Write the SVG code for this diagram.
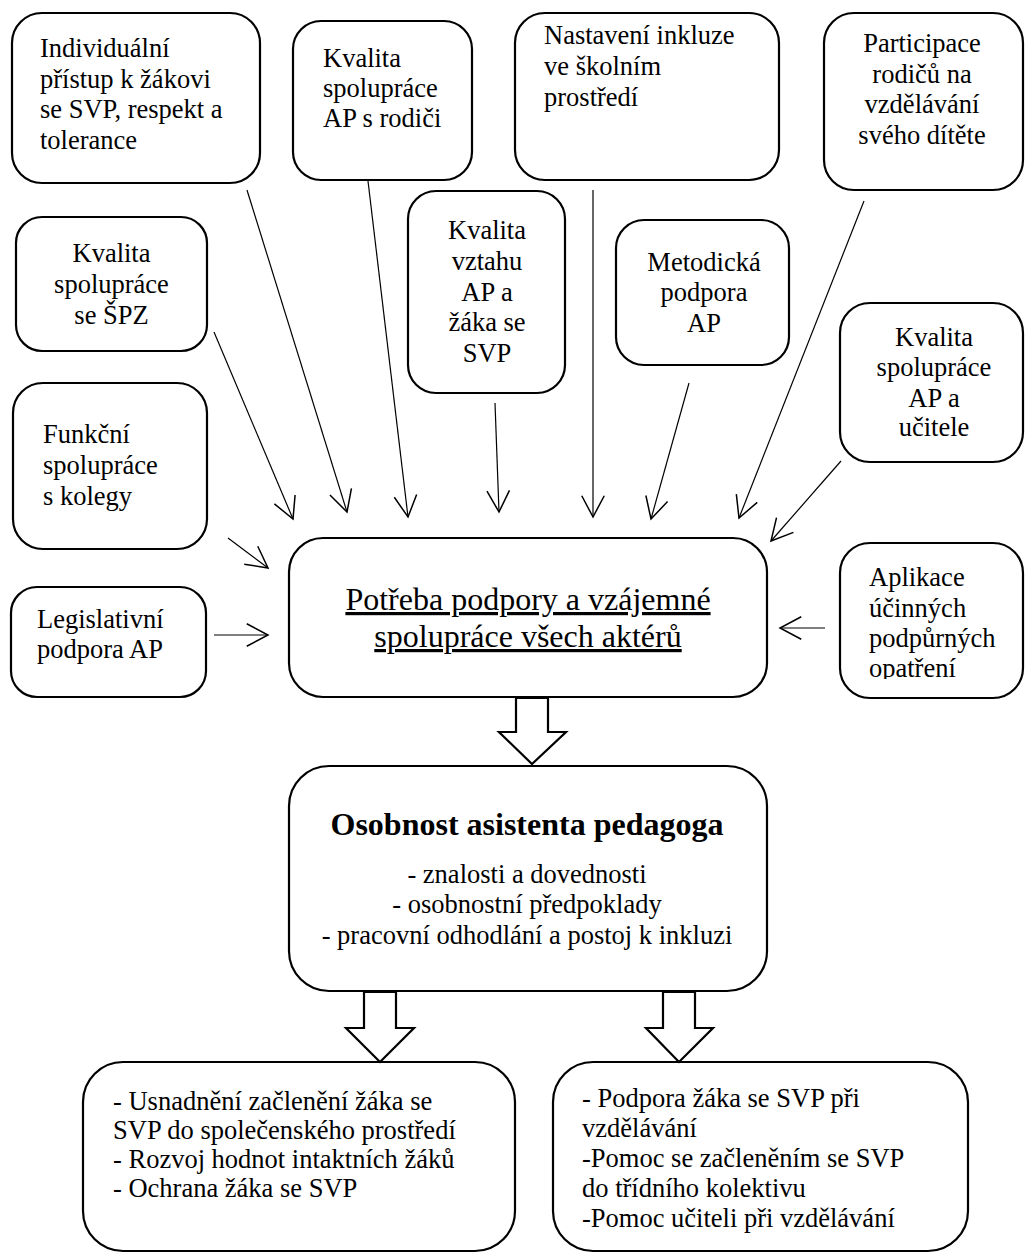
<svg xmlns="http://www.w3.org/2000/svg" width="1025" height="1254" viewBox="0 0 1025 1254" font-family="'Liberation Serif', 'DejaVu Serif', serif">
<style>
  .box { fill: #fff; stroke: #000; stroke-width: 2.2; }
  text { font-family: 'Liberation Serif', 'DejaVu Serif', serif; font-size: 26.5px; fill: #000; }
  .c { text-anchor: middle; }
  .main { font-size: 32px; text-decoration: underline; }
  .bold { font-weight: bold; font-size: 32px; }
  .con line { stroke: #000; stroke-width: 1.2; marker-end: url(#arr); }
  .block { fill: #fff; stroke: #000; stroke-width: 2.2; stroke-linejoin: miter; }
</style>
<defs>
  <marker id="arr" markerUnits="userSpaceOnUse" markerWidth="30" markerHeight="30" viewBox="-20 -12 22 24" refX="0" refY="0" orient="auto">
    <path d="M-17,-9 L0,0 L-17,9" fill="none" stroke="#000" stroke-width="1.2"/>
  </marker>
  <clipPath id="clipApl"><rect x="840" y="543" width="185" height="136"/></clipPath>
</defs>
<rect width="1025" height="1254" fill="#fff"/>

<g id="n-individualni">
  <rect class="box" x="12" y="13" width="248" height="170" rx="30"/>
  <text x="40" y="57">Individuální</text>
  <text x="40" y="87.5">přístup k žákovi</text>
  <text x="40" y="118">se SVP, respekt a</text>
  <text x="40" y="148.5">tolerance</text>
</g>
<g id="n-rodice">
  <rect class="box" x="293" y="21" width="179" height="159" rx="28"/>
  <text x="323" y="67">Kvalita</text>
  <text x="323" y="97">spolupráce</text>
  <text x="323" y="127">AP s rodiči</text>
</g>
<g id="n-nastaveni">
  <rect class="box" x="515" y="13" width="264" height="167" rx="30"/>
  <text x="544" y="44">Nastavení inkluze</text>
  <text x="544" y="75">ve školním</text>
  <text x="544" y="106">prostředí</text>
</g>
<g id="n-participace">
  <rect class="box" x="824" y="13" width="199" height="177" rx="30"/>
  <text class="c" x="922" y="52">Participace</text>
  <text class="c" x="922" y="82.5">rodičů na</text>
  <text class="c" x="922" y="113">vzdělávání</text>
  <text class="c" x="922" y="143.5">svého dítěte</text>
</g>
<g id="n-spz">
  <rect class="box" x="16" y="217" width="191" height="134" rx="26"/>
  <text class="c" x="111.5" y="262">Kvalita</text>
  <text class="c" x="111.5" y="292.5">spolupráce</text>
  <text class="c" x="111.5" y="323.5">se ŠPZ</text>
</g>
<g id="n-funkcni">
  <rect class="box" x="13" y="383" width="194" height="166" rx="30"/>
  <text x="43" y="443">Funkční</text>
  <text x="43" y="474">spolupráce</text>
  <text x="43" y="505">s kolegy</text>
</g>
<g id="n-vztah">
  <rect class="box" x="408" y="191" width="157" height="202" rx="28"/>
  <text class="c" x="487" y="239">Kvalita</text>
  <text class="c" x="487" y="270">vztahu</text>
  <text class="c" x="487" y="300.5">AP a</text>
  <text class="c" x="487" y="331">žáka se</text>
  <text class="c" x="487" y="361.5">SVP</text>
</g>
<g id="n-metodicka">
  <rect class="box" x="616" y="220" width="173" height="145" rx="28"/>
  <text class="c" x="704" y="270.5">Metodická</text>
  <text class="c" x="704" y="300.5">podpora</text>
  <text class="c" x="704" y="332">AP</text>
</g>
<g id="n-ucitel">
  <rect class="box" x="840" y="303" width="183" height="159" rx="30"/>
  <text class="c" x="934" y="345.5">Kvalita</text>
  <text class="c" x="934" y="375.5">spolupráce</text>
  <text class="c" x="934" y="406.5">AP a</text>
  <text class="c" x="934" y="436">učitele</text>
</g>
<g id="n-legislativni">
  <rect class="box" x="11" y="587" width="195" height="110" rx="26"/>
  <text x="37" y="628">Legislativní</text>
  <text x="37" y="658">podpora AP</text>
</g>
<g id="n-aplikace">
  <rect class="box" x="840" y="543" width="183" height="155" rx="30"/>
  <g clip-path="url(#clipApl)">
    <text x="869" y="586">Aplikace</text>
    <text x="869" y="616.5">účinných</text>
    <text x="869" y="647">podpůrných</text>
    <text x="869" y="677">opatření</text>
  </g>
</g>
<g id="n-potreba">
  <rect class="box" x="289" y="538" width="478" height="159" rx="34"/>
  <text class="c main" x="528" y="610">Potřeba podpory a vzájemné</text>
  <text class="c main" x="528" y="647">spolupráce všech aktérů</text>
</g>
<g id="n-osobnost">
  <rect class="box" x="289" y="766" width="478" height="225" rx="40"/>
  <text class="c bold" x="527" y="835">Osobnost asistenta pedagoga</text>
  <text class="c" x="527" y="883">- znalosti a dovednosti</text>
  <text class="c" x="527" y="913">- osobnostní předpoklady</text>
  <text class="c" x="527" y="943.5">- pracovní odhodlání a postoj k inkluzi</text>
</g>
<g id="n-zacleneni">
  <rect class="box" x="83" y="1062" width="432" height="189" rx="40"/>
  <text x="113" y="1110">- Usnadnění začlenění žáka se</text>
  <text x="113" y="1139">SVP do společenského prostředí</text>
  <text x="113" y="1168">- Rozvoj hodnot intaktních žáků</text>
  <text x="113" y="1197">- Ochrana žáka se SVP</text>
</g>
<g id="n-podpora">
  <rect class="box" x="553" y="1062" width="415" height="189" rx="40"/>
  <text x="582" y="1107">- Podpora žáka se SVP při</text>
  <text x="582" y="1137">vzdělávání</text>
  <text x="582" y="1167">-Pomoc se začleněním se SVP</text>
  <text x="582" y="1197">do třídního kolektivu</text>
  <text x="582" y="1227">-Pomoc učiteli při vzdělávání</text>
</g>

<g id="connectors" class="con">
  <line x1="214" y1="332" x2="293" y2="519"/>
  <line x1="247" y1="190" x2="347" y2="512"/>
  <line x1="368" y1="181" x2="408" y2="517"/>
  <line x1="495" y1="403" x2="499" y2="512"/>
  <line x1="593" y1="190" x2="593" y2="517"/>
  <line x1="689" y1="383" x2="651" y2="519"/>
  <line x1="864" y1="201" x2="739" y2="518"/>
  <line x1="841" y1="461" x2="771" y2="541"/>
  <line x1="228" y1="538" x2="268" y2="568"/>
  <line x1="214" y1="635" x2="268" y2="635"/>
  <line x1="825" y1="628" x2="780" y2="628"/>
  <polygon class="block" points="516,698 548,698 548,732 566,732 532,764 499,732 516,732"/>
  <polygon class="block" points="364,992 396,992 396,1028 414,1028 380,1062 346,1028 364,1028"/>
  <polygon class="block" points="663,992 695,992 695,1028 713,1028 679,1062 646,1028 663,1028"/>
</g>
</svg>
